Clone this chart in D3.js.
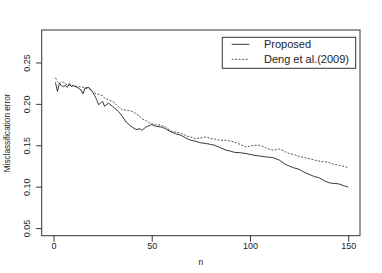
<!DOCTYPE html>
<html>
<head>
<meta charset="utf-8">
<script src="https://cdn.jsdelivr.net/npm/d3@7"></script>
<style>
  html, body { margin: 0; padding: 0; background: #fff; }
  svg { display: block; font-family: "Liberation Sans", Arial, sans-serif; }
</style>
</head>
<body>
<svg id="chart" width="382" height="273"></svg>
<script>
// sample sizes
const nValues = [1, 2, 3, 4, 5, 6, 7, 8, 9, 10, 12, 14, 15, 16, 18, 20, 21, 22, 23, 25, 26, 28, 30, 31, 33, 35, 37, 40, 42, 44, 45, 47, 49, 50, 52, 55, 57, 60, 62, 65, 68, 70, 72, 75, 78, 80, 82, 85, 88, 90, 92, 95, 98, 100, 102, 105, 108, 110, 112, 115, 118, 120, 122, 125, 128, 130, 133, 135, 138, 140, 142, 145, 148, 150]

const proposed = [0.226, 0.215, 0.225, 0.222, 0.221, 0.222, 0.220, 0.2245, 0.221, 0.222, 0.220, 0.217, 0.212, 0.219, 0.220, 0.214, 0.210, 0.205, 0.199, 0.203, 0.197, 0.201, 0.197, 0.195, 0.191, 0.185, 0.178, 0.172, 0.169, 0.170, 0.168, 0.172, 0.174, 0.175, 0.173, 0.172, 0.170, 0.166, 0.164, 0.162, 0.158, 0.156, 0.155, 0.153, 0.152, 0.151, 0.150, 0.147, 0.144, 0.143, 0.1415, 0.141, 0.140, 0.139, 0.138, 0.137, 0.136, 0.1355, 0.135, 0.132, 0.127, 0.125, 0.123, 0.121, 0.117, 0.115, 0.112, 0.111, 0.107, 0.105, 0.104, 0.1035, 0.101, 0.0995]

const deng2009 = [0.2315, 0.227, 0.2245, 0.226, 0.2265, 0.224, 0.223, 0.2225, 0.223, 0.222, 0.221, 0.2205, 0.220, 0.219, 0.2185, 0.215, 0.213, 0.212, 0.2115, 0.210, 0.207, 0.205, 0.203, 0.2015, 0.1965, 0.193, 0.1925, 0.191, 0.188, 0.185, 0.182, 0.180, 0.1765, 0.176, 0.175, 0.174, 0.172, 0.167, 0.166, 0.1645, 0.161, 0.160, 0.158, 0.159, 0.160, 0.158, 0.1575, 0.156, 0.156, 0.155, 0.154, 0.151, 0.148, 0.149, 0.150, 0.150, 0.147, 0.145, 0.144, 0.1455, 0.142, 0.140, 0.139, 0.1365, 0.135, 0.134, 0.132, 0.131, 0.130, 0.1295, 0.1275, 0.126, 0.1245, 0.123]

const xTicks = [0, 50, 100, 150]
const yTicks = [0.05, 0.10, 0.15, 0.20, 0.25]
const legendLabels = ['Proposed', 'Deng et al.(2009)']

const svg = d3.select('#chart')

// plot region (R style box)
const plotLeft = 41.7, plotRight = 360, plotTop = 30, plotBottom = 235.7

// R pads the range by 4% on each side
const x = d3.scaleLinear().domain([-6, 156]).range([plotLeft, plotRight])
const y = d3.scaleLinear().domain([0.0408, 0.2892]).range([plotBottom, plotTop])

const ink = '#333'

svg.append('rect')
  .attr('x', plotLeft).attr('y', plotTop)
  .attr('width', plotRight - plotLeft).attr('height', plotBottom - plotTop)
  .attr('fill', 'none').attr('stroke', ink).attr('stroke-width', 1)

// y axis, labels turned like R's las=0
const yAxis = svg.append('g')
  .attr('transform', `translate(${plotLeft},0)`)
  .call(d3.axisLeft(y).tickValues(yTicks).tickSize(5.5).tickSizeOuter(0).tickFormat(d3.format('.2f')))
yAxis.select('.domain').remove()
yAxis.selectAll('line').attr('stroke', ink)
yAxis.selectAll('text')
  .attr('x', 0).attr('y', 0).attr('dy', 0)
  .attr('transform', 'translate(-11.5,0) rotate(-90)')
  .attr('text-anchor', 'middle')
  .style('font-size', '9px')
  .attr('fill', '#222')

// x axis
const xAxis = svg.append('g')
  .attr('transform', `translate(0,${plotBottom})`)
  .call(d3.axisBottom(x).tickValues(xTicks).tickSize(6).tickSizeOuter(0))
xAxis.select('.domain').remove()
xAxis.selectAll('line').attr('stroke', ink)
xAxis.selectAll('text')
  .attr('y', 13.6).attr('dy', 0)
  .style('font-size', '9px')
  .attr('fill', '#222')

// axis titles
svg.append('text')
  .attr('x', (plotLeft + plotRight) / 2).attr('y', 264.5)
  .attr('text-anchor', 'middle')
  .style('font-size', '8.5px')
  .attr('fill', '#222')
  .text('n')

svg.append('text')
  .attr('transform', `translate(9.5,${(plotTop + plotBottom) / 2}) rotate(-90)`)
  .attr('text-anchor', 'middle')
  .style('font-size', '8.2px')
  .attr('fill', '#222')
  .text('Misclassification error')

// series
const line = d3.line()
  .x((d, i) => x(nValues[i]))
  .y(d => y(d))

svg.append('path')
  .datum(deng2009)
  .attr('d', line)
  .attr('fill', 'none')
  .attr('stroke', '#444')
  .attr('stroke-width', 0.9)
  .attr('stroke-dasharray', '2,1.5')

svg.append('path')
  .datum(proposed)
  .attr('d', line)
  .attr('fill', 'none')
  .attr('stroke', '#222')
  .attr('stroke-width', 0.9)

// legend
const legend = svg.append('g')
legend.append('rect')
  .attr('x', 222.3).attr('y', 37.3)
  .attr('width', 133.4).attr('height', 31)
  .attr('fill', '#fff').attr('stroke', ink).attr('stroke-width', 1)

const rows = legend.selectAll('g.row')
  .data(legendLabels)
  .join('g')
  .attr('class', 'row')
  .attr('transform', (d, i) => `translate(0,${44.3 + i * 15})`)

rows.append('line')
  .attr('x1', 231.7).attr('x2', 249.3)
  .attr('stroke', (d, i) => i === 0 ? '#222' : '#444')
  .attr('stroke-width', 0.9)
  .attr('stroke-dasharray', (d, i) => i === 0 ? null : '2,1.5')

rows.append('text')
  .attr('x', 264).attr('y', 3.8)
  .style('font-size', '11px')
  .attr('fill', '#222')
  .text(d => d)
</script>
</body>
</html>
